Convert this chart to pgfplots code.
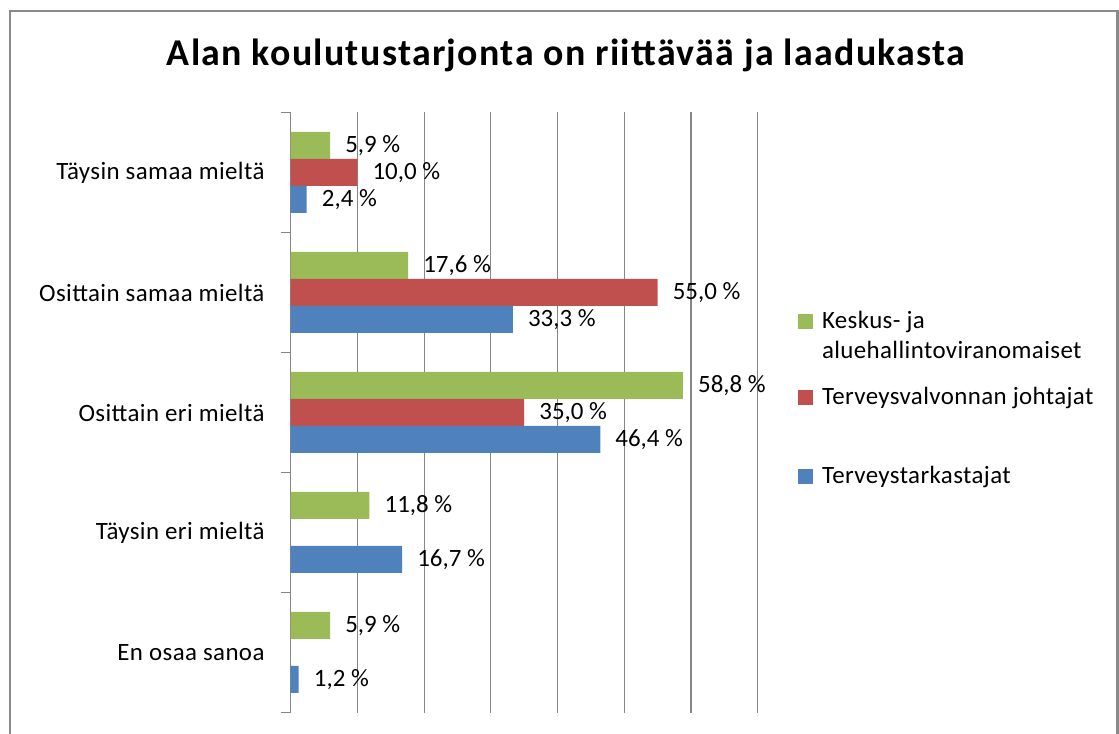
\documentclass[border=0pt]{standalone}
\usepackage{fontspec}
\setmainfont{Carlito}
\newfontfamily\lsfont[LetterSpace=1.6]{Carlito}
\newfontfamily\titlefont[LetterSpace=3.5]{Carlito}
\usepackage{pgfplots}
\pgfplotsset{compat=1.18}
\definecolor{cgreen}{HTML}{9BBB59}
\definecolor{cred}{HTML}{C0504D}
\definecolor{cblue}{HTML}{4F81BD}
\definecolor{gridgray}{HTML}{868686}
\definecolor{framegray}{HTML}{8A8A8A}
\pgfplotsset{
  minilegend/.style={hide axis, scale only axis, width=1bp, height=1bp,
    anchor=south west, xmin=0, xmax=1, ymin=0, ymax=1,
    legend image code/.code={\fill[##1] (0bp,0bp) rectangle (15bp,15bp);},
    legend style={at={(rel axis cs:0,0)}, anchor=north west, draw=none, fill=none,
      inner sep=0pt, outer sep=0pt, column sep=7bp,
      font=\lsfont\fontsize{25}{30}\selectfont,
      cells={anchor=base west, inner sep=0pt, text height=20bp, text depth=6bp}}},
}
\begin{document}
\begin{tikzpicture}
\useasboundingbox (0bp,0bp) rectangle (1119bp,734bp);
\draw[framegray, line width=2.5bp] (10bp,-20bp) -- (10bp,723bp) -- (1117.5bp,723bp) -- (1117.5bp,-20bp);
\node[anchor=base, inner sep=0pt, font=\titlefont\bfseries\fontsize{38}{44}\selectfont] at (566bp,668bp) {Alan koulutustarjonta on riittävää ja laadukasta};
\begin{axis}[
  at={(290.7bp,21.5bp)}, anchor=south west,
  scale only axis, width=467bp, height=600bp,
  xbar, bar width=27bp,
  xmin=0, xmax=70, ymin=0.5, ymax=5.5,
  xtick={0,10,...,70}, xticklabels={},
  xmajorgrids, grid style={draw=gridgray, line width=1.2bp},
  axis lines*=left,
  x axis line style={draw=none},
  y axis line style={draw=gridgray, line width=1.2bp},
  xtick style={draw=none},
  ytick={1,2,3,4,5},
  yticklabels={En osaa sanoa, Täysin eri mieltä, Osittain eri mieltä, Osittain samaa mieltä, Täysin samaa mieltä},
  minor ytick={0.5,1.5,...,5.5},
  major y tick style={draw=none},
  minor y tick style={draw=gridgray, line width=1.2bp},
  tick align=outside, major tick length=0pt, minor tick length=10bp,
  yticklabel style={inner sep=0pt, xshift=-26bp, font=\lsfont\fontsize{25}{30}\selectfont},
  point meta=explicit symbolic,
  nodes near coords,
  every node near coord/.append style={anchor=west, inner sep=0pt, xshift=15bp, font=\fontsize{25}{30}\selectfont, text=black},
]
\addplot[fill=cgreen, draw=none, bar shift=27bp] coordinates {
  (5.9,5) [5,9 \%]
  (17.6,4) [17,6 \%]
  (58.8,3) [58,8 \%]
  (11.8,2) [11,8 \%]
  (5.9,1) [5,9 \%]
};
\addplot[fill=cred, draw=none, bar shift=0bp] coordinates {
  (10.0,5) [10,0 \%]
  (55.0,4) [55,0 \%]
  (35.0,3) [35,0 \%]
};
\addplot[fill=cblue, draw=none, bar shift=-27bp] coordinates {
  (2.4,5) [2,4 \%]
  (33.3,4) [33,3 \%]
  (46.4,3) [46,4 \%]
  (16.7,2) [16,7 \%]
  (1.2,1) [1,2 \%]
};
\end{axis}
% legend, one small legend per line
\begin{axis}[minilegend, at={(798bp,427bp)}]
\addlegendimage{fill=cgreen, draw=none}
\legend{Keskus- ja}
\end{axis}
\begin{axis}[minilegend, at={(798bp,397bp)}]
\addlegendimage{fill=white, draw=none, opacity=0}
\legend{aluehallintoviranomaiset}
\end{axis}
\begin{axis}[minilegend, at={(798bp,351bp)}]
\addlegendimage{fill=cred, draw=none}
\legend{Terveysvalvonnan johtajat}
\end{axis}
\begin{axis}[minilegend, at={(798bp,272bp)}]
\addlegendimage{fill=cblue, draw=none}
\legend{Terveystarkastajat}
\end{axis}
\end{tikzpicture}
\end{document}
